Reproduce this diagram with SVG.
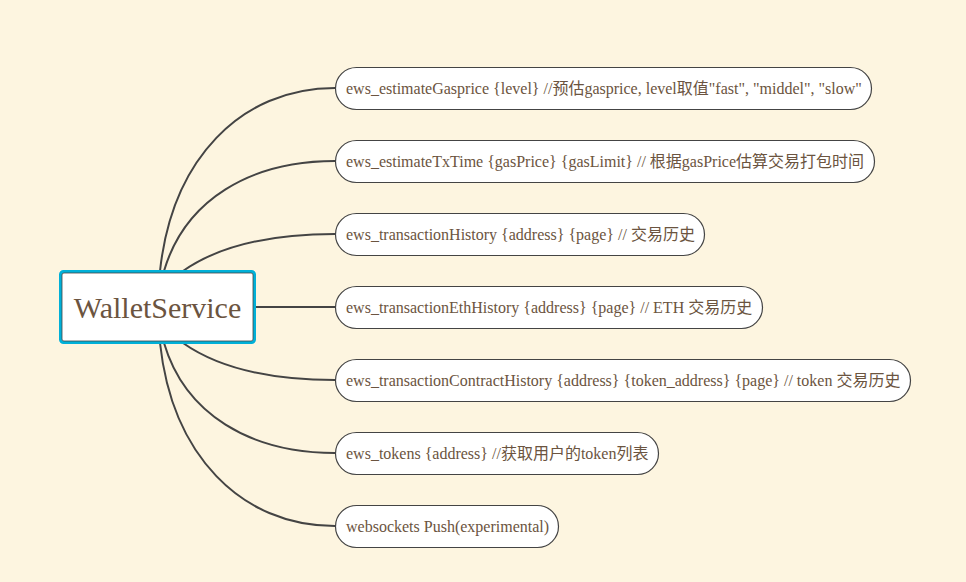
<svg xmlns="http://www.w3.org/2000/svg" width="966" height="582" viewBox="0 0 966 582">
<style>
.bg{fill:#fdf5e0}
.c{fill:none;stroke:#444;stroke-width:2}
.n{fill:#fff;stroke:#444;stroke-width:1.2}
.t{font-family:"Liberation Serif","Noto Sans CJK SC",serif;font-size:16px;fill:#6b5440}
.r{font-family:"Liberation Serif","Noto Sans CJK SC",serif;font-size:30px;fill:#6b5440}
</style>
<rect class="bg" x="0" y="0" width="966" height="582"/>
<g id="connectors">
<path class="c" d="M160,271 C172,160 240,88 335,88"/>
<path class="c" d="M164,271 C185,200 250,161 335,161"/>
<path class="c" d="M183,271 C220,245 270,234 335,234"/>
<path class="c" d="M255,307 L335,307"/>
<path class="c" d="M183,343 C220,369 270,380 335,380"/>
<path class="c" d="M164,343 C185,414 250,453 335,453"/>
<path class="c" d="M160,343 C172,454 240,526 335,526"/>
</g>
<g id="root">
<rect x="60.5" y="271.5" width="194" height="71" rx="3" fill="#fff" stroke="#00b0d8" stroke-width="3"/>
<rect x="62" y="273" width="191" height="68" rx="2" fill="none" stroke="#444" stroke-width="0.8"/>
<text class="r" x="157.5" y="318" text-anchor="middle">WalletService</text>
</g>
<g id="n1"><rect class="n" x="335.5" y="67.5" width="536" height="42" rx="21"/><text class="t" x="346" y="94">ews_estimateGasprice {level} //预估gasprice, level取值"fast", "middel", "slow"</text></g>
<g id="n2"><rect class="n" x="335.5" y="140.5" width="539" height="42" rx="21"/><text class="t" x="346" y="167">ews_estimateTxTime {gasPrice} {gasLimit} // 根据gasPrice估算交易打包时间</text></g>
<g id="n3"><rect class="n" x="335.5" y="213.5" width="369" height="42" rx="21"/><text class="t" x="346" y="240">ews_transactionHistory {address} {page} // 交易历史</text></g>
<g id="n4"><rect class="n" x="335.5" y="286.5" width="427" height="42" rx="21"/><text class="t" x="346" y="313">ews_transactionEthHistory {address} {page} // ETH 交易历史</text></g>
<g id="n5"><rect class="n" x="335.5" y="359.5" width="575" height="42" rx="21"/><text class="t" x="346" y="386">ews_transactionContractHistory {address} {token_address} {page} // token 交易历史</text></g>
<g id="n6"><rect class="n" x="335.5" y="432.5" width="323" height="42" rx="21"/><text class="t" x="346" y="459">ews_tokens {address} //获取用户的token列表</text></g>
<g id="n7"><rect class="n" x="335.5" y="505.5" width="223" height="42" rx="21"/><text class="t" x="346" y="532">websockets Push(experimental)</text></g>
</svg>
